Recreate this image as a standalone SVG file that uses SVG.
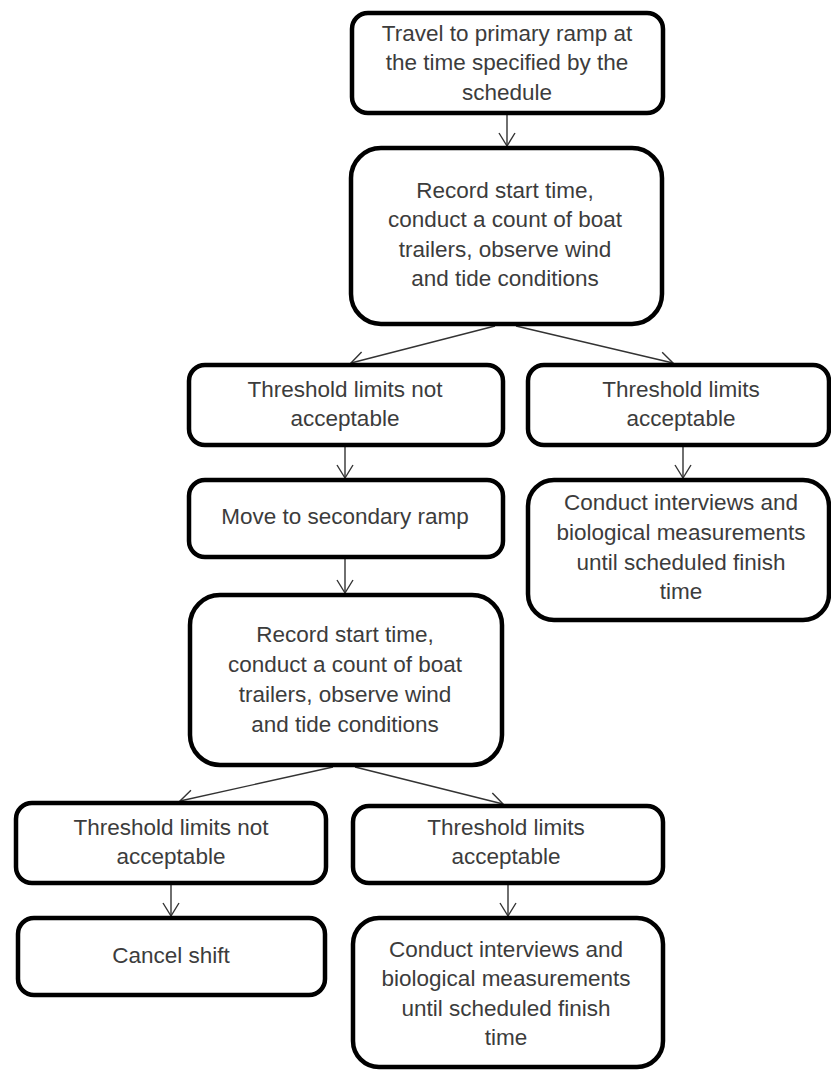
<svg xmlns="http://www.w3.org/2000/svg" width="831" height="1070" viewBox="0 0 831 1070">
<defs>
<style>
.box{fill:#fff;stroke:#000;stroke-width:4.5}
.t{font-family:"Liberation Sans",Arial,sans-serif;font-size:22.5px;fill:#3c3c3c;text-anchor:middle}
.c{stroke:#333;stroke-width:1.4;fill:none;marker-end:url(#ah)}
</style>
<marker id="ah" markerUnits="userSpaceOnUse" markerWidth="16" markerHeight="20" refX="14" refY="9" orient="auto" viewBox="0 0 16 20">
<path d="M1,1 L14,9 L1,17" fill="none" stroke="#333" stroke-width="1.4"/>
</marker>
</defs>
<rect width="831" height="1070" fill="#fff"/>
<g id="connectors">
<line class="c" x1="507" y1="115" x2="507" y2="146"/>
<line class="c" x1="495" y1="326" x2="351" y2="363"/>
<line class="c" x1="516" y1="326" x2="673" y2="363"/>
<line class="c" x1="345" y1="447" x2="345" y2="478"/>
<line class="c" x1="683" y1="447" x2="683" y2="478"/>
<line class="c" x1="345" y1="559" x2="345" y2="593"/>
<line class="c" x1="333" y1="767" x2="180" y2="801"/>
<line class="c" x1="355" y1="767" x2="503" y2="804"/>
<line class="c" x1="171" y1="885" x2="171" y2="916"/>
<line class="c" x1="508" y1="884" x2="508" y2="916"/>
</g>
<g id="n1">
<rect class="box" x="352" y="13" width="311" height="100" rx="16"/>
<text class="t" x="507" y="41">Travel to primary ramp at</text>
<text class="t" x="507" y="70">the time specified by the</text>
<text class="t" x="507" y="100">schedule</text>
</g>
<g id="n2">
<rect class="box" x="351" y="148" width="311" height="176" rx="30"/>
<text class="t" x="505" y="198">Record start time,</text>
<text class="t" x="505" y="227">conduct a count of boat</text>
<text class="t" x="505" y="257">trailers, observe wind</text>
<text class="t" x="505" y="286">and tide conditions</text>
</g>
<g id="n3">
<rect class="box" x="189" y="365" width="314" height="80" rx="16"/>
<text class="t" x="345" y="397">Threshold limits not</text>
<text class="t" x="345" y="426">acceptable</text>
</g>
<g id="n4">
<rect class="box" x="528" y="365" width="301" height="80" rx="16"/>
<text class="t" x="681" y="397">Threshold limits</text>
<text class="t" x="681" y="426">acceptable</text>
</g>
<g id="n5">
<rect class="box" x="189" y="480" width="314" height="77" rx="16"/>
<text class="t" x="345" y="524">Move to secondary ramp</text>
</g>
<g id="n6">
<rect class="box" x="528" y="480" width="301" height="140" rx="26"/>
<text class="t" x="681" y="510">Conduct interviews and</text>
<text class="t" x="681" y="540">biological measurements</text>
<text class="t" x="681" y="570">until scheduled finish</text>
<text class="t" x="681" y="599">time</text>
</g>
<g id="n7">
<rect class="box" x="190" y="595" width="312" height="170" rx="30"/>
<text class="t" x="345" y="642">Record start time,</text>
<text class="t" x="345" y="672">conduct a count of boat</text>
<text class="t" x="345" y="702">trailers, observe wind</text>
<text class="t" x="345" y="732">and tide conditions</text>
</g>
<g id="n8">
<rect class="box" x="16" y="803" width="310" height="80" rx="16"/>
<text class="t" x="171" y="835">Threshold limits not</text>
<text class="t" x="171" y="864">acceptable</text>
</g>
<g id="n9">
<rect class="box" x="353" y="806" width="310" height="77" rx="16"/>
<text class="t" x="506" y="835">Threshold limits</text>
<text class="t" x="506" y="864">acceptable</text>
</g>
<g id="n10">
<rect class="box" x="18" y="918" width="307" height="77" rx="16"/>
<text class="t" x="171" y="963">Cancel shift</text>
</g>
<g id="n11">
<rect class="box" x="353" y="918" width="310" height="149" rx="26"/>
<text class="t" x="506" y="957">Conduct interviews and</text>
<text class="t" x="506" y="986">biological measurements</text>
<text class="t" x="506" y="1016">until scheduled finish</text>
<text class="t" x="506" y="1045">time</text>
</g>
</svg>
